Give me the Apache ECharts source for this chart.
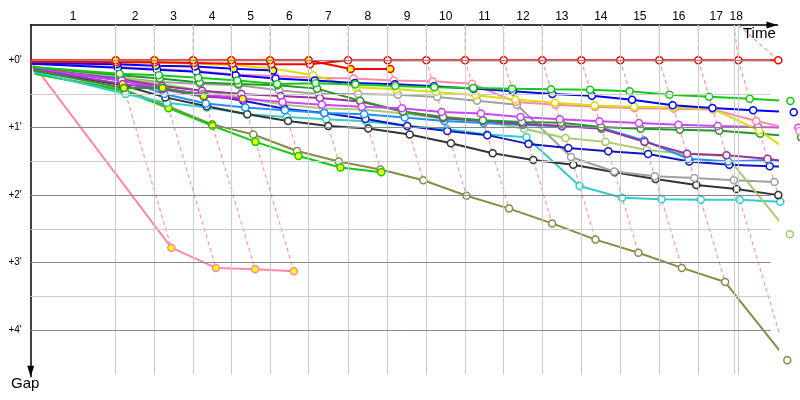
<!DOCTYPE html>
<html>
<head>
<meta charset="utf-8">
<script src="https://cdn.jsdelivr.net/npm/echarts@6/dist/echarts.min.js"></script>
<style>
  html, body { margin: 0; padding: 0; background: #fff; }
  #chart { width: 800px; height: 400px; }
</style>
</head>
<body>
<div id="chart"></div>
<script>
// stage names shown along the time axis
const stageLabels = ["1", "2", "3", "4", "5", "6", "7", "8", "9", "10", "11", "12", "13", "14", "15", "16", "17", "18"];
// time of each stage grid line (index 0 = start)
const stageMarks = [0, 4.25, 6.18, 8.12, 10.03, 11.97, 13.9, 15.87, 17.85, 19.78, 21.72, 23.65, 25.58, 27.53, 29.48, 31.43, 33.38, 35.17, 35.38];
// time of the leader at the end of each stage
const leaderTimes = [0, 4.25, 6.18, 8.12, 10.03, 11.97, 13.9, 15.87, 17.85, 19.78, 21.72, 23.65, 25.58, 27.53, 29.48, 31.43, 33.38, 35.38, 37.38];
const majorGaps = [0, 1, 2, 3, 4];
const minorGaps = [0.5, 1.5, 2.5, 3.5];

// gap (minutes) of each rider after each stage, index 0 = start
const redOut = [0, 0, 0, 0, 0, 0, 0, 0.13, 0.13];
const red = [0.02, 0.03, 0.03, 0.04, 0.05, 0.06, 0.06, 0, 0, 0, 0, 0, 0, 0, 0, 0, 0, 0, 0];
const blueOut = [0.04, 0.06, 0.08, 0.09, 0.125, 0.15];
const blue = [0.05, 0.11, 0.14, 0.17, 0.22, 0.27, 0.3, 0.337, 0.356, 0.386, 0.42, 0.46, 0.5, 0.525, 0.585, 0.668, 0.708, 0.742, 0.772];
const yellow = [0.02, 0.03, 0.04, 0.05, 0.07, 0.12, 0.22, 0.4, 0.43, 0.47, 0.52, 0.58, 0.63, 0.67, 0.69, 0.7, 0.72, 1.04, 1.56];
const pink = [0.05, 0.1, 0.13, 0.16, 0.21, 0.233, 0.26, 0.27, 0.3, 0.31, 0.347, 0.62, 0.66, 0.69, 0.71, 0.72, 0.73, 0.9, 1.05];
const pinkOut = [0.02, 2.78, 3.08, 3.1, 3.13];
const green = [0.1, 0.2, 0.22, 0.26, 0.3, 0.35, 0.34, 0.36, 0.38, 0.4, 0.41, 0.42, 0.43, 0.436, 0.46, 0.51, 0.54, 0.57, 0.605];
const greenOut = [0.2, 0.46, 0.71, 0.97, 1.21, 1.42, 1.59, 1.66];
const olive = [0.2, 0.44, 0.68, 0.95, 1.1, 1.346, 1.5, 1.62, 1.78, 2.01, 2.2, 2.42, 2.66, 2.855, 3.08, 3.29, 4.45];
const black = [0.15, 0.37, 0.55, 0.68, 0.8, 0.9, 0.975, 1.01, 1.1, 1.23, 1.38, 1.48, 1.55, 1.66, 1.76, 1.85, 1.91, 2.0];
const cyan = [0.17, 0.5, 0.63, 0.7, 0.8, 0.84, 0.875, 0.905, 0.975, 1.02, 1.1, 1.14, 1.865, 2.04, 2.06, 2.07, 2.07, 2.1];
const skyBlue = [0.14, 0.27, 0.5, 0.64, 0.7, 0.74, 0.78, 0.8, 0.85, 0.9, 0.93, 0.96, 0.98, 1.0, 1.19, 1.46, 1.5, 1.48, 1.5];
const navy = [0.12, 0.3, 0.42, 0.5, 0.6, 0.72, 0.78, 0.87, 0.975, 1.05, 1.11, 1.24, 1.3, 1.35, 1.39, 1.5, 1.55, 1.57, 1.6];
const forest = [0.1, 0.22, 0.27, 0.33, 0.35, 0.37, 0.42, 0.6, 0.76, 0.84, 0.89, 0.915, 0.926, 0.99, 1.015, 1.03, 1.045, 1.09, 1.14];
const forestOut = [0.15, 0.41, 0.41, 0.53];
const purple = [0.12, 0.28, 0.38, 0.45, 0.5, 0.53, 0.56, 0.61, 0.76, 0.86, 0.9, 0.94, 0.975, 1.015, 1.21, 1.386, 1.41, 1.46, 1.55];
const violet = [0.12, 0.3, 0.42, 0.5, 0.57, 0.62, 0.66, 0.69, 0.71, 0.767, 0.79, 0.84, 0.875, 0.905, 0.93, 0.957, 0.976, 0.99, 1.0];
const violetOut = [0.13, 0.35, 0.43, 0.54, 0.57];
const lime = [0.1, 0.25, 0.35, 0.45, 0.55, 0.66, 0.71, 0.73, 0.79, 0.866, 0.905, 1.015, 1.153, 1.21, 1.33, 1.39, 1.42, 2.58];
const gray = [0.1, 0.26, 0.32, 0.35, 0.37, 0.445, 0.5, 0.5, 0.51, 0.545, 0.6, 0.66, 1.435, 1.65, 1.72, 1.746, 1.78, 1.806, 1.81];

const Y_MIN = -0.524;
const Y_MAX = 4.694;
const X_MAX = 37.34;
const GRID_X_END = 37.0;
const GRID_Y_END = 4.665;
const FONT = '"Liberation Sans", Arial, sans-serif';

// riders, drawn bottom first
const riders = [
  { gaps: olive, color: "#8a8a48" },
  { gaps: pinkOut, color: "#ff88aa", out: true },
  { gaps: greenOut, color: "#11cc11", out: true },
  { gaps: cyan, color: "#33cccc" },
  { gaps: black, color: "#333333" },
  { gaps: gray, color: "#a0a0a0" },
  { gaps: lime, color: "#a6cc6a" },
  { gaps: navy, color: "#1414c8" },
  { gaps: skyBlue, color: "#1e90ff" },
  { gaps: purple, color: "#993399" },
  { gaps: forest, color: "#2a962a" },
  { gaps: violet, color: "#cc44ff" },
  { gaps: violetOut, color: "#aa33cc", out: true },
  { gaps: forestOut, color: "#2a962a", out: true },
  { gaps: pink, color: "#ff88aa" },
  { gaps: yellow, color: "#dddd00" },
  { gaps: blue, color: "#0000ff" },
  { gaps: green, color: "#11cc11" },
  { gaps: blueOut, color: "#0000ff", out: true },
  { gaps: red, color: "#ff0000" },
  { gaps: redOut, color: "#ff0000", out: true },
];

const labelSpots = stageLabels.map((_, i) => (stageMarks[i] + stageMarks[i + 1]) / 2);

const chart = echarts.init(document.getElementById("chart"), null, { renderer: "canvas" });

// grid lines
const gridData = [];
stageMarks.slice(1).forEach((t) => {
  gridData.push([
    { coord: [t, Y_MIN], lineStyle: { color: "#cccccc", width: 1, type: "solid" } },
    { coord: [t, GRID_Y_END] },
  ]);
});
minorGaps.forEach((g) => {
  gridData.push([
    { coord: [0, g], lineStyle: { color: "#cccccc", width: 1, type: "solid" } },
    { coord: [GRID_X_END, g] },
  ]);
});
majorGaps.forEach((g) => {
  gridData.push([
    { coord: [0, g], lineStyle: { color: "#888888", width: 1, type: "solid" } },
    { coord: [GRID_X_END, g] },
  ]);
});

const series = [
  {
    type: "line",
    data: [],
    silent: true,
    markLine: { symbol: "none", silent: true, label: { show: false }, animation: false, data: gridData },
  },
];

// dashed stage lines through every rider's point of that stage
for (let k = 1; k < stageMarks.length; k++) {
  let gmax = 0;
  riders.forEach((r) => {
    if (r.gaps[k] != null && r.gaps[k] > gmax) gmax = r.gaps[k];
  });
  series.push({
    type: "line",
    silent: true,
    clip: false,
    symbol: "none",
    lineStyle: { color: "#ff9a9a", width: 1.2, type: [4, 3] },
    data: [
      [stageMarks[k], Y_MIN],
      [leaderTimes[k], 0],
      [leaderTimes[k] + gmax, gmax],
    ],
  });
}

riders.forEach((r) => {
  series.push({
    type: "line",
    clip: false,
    silent: true,
    symbol: "circle",
    symbolSize: 7,
    lineStyle: { color: r.color, width: 2 },
    itemStyle: { color: r.out ? "#ffff00" : "#ffffff", borderColor: r.color, borderWidth: 1.5 },
    data: r.gaps.map((g, k) => ({
      value: [leaderTimes[k] + g, g],
      symbol: k === 0 ? "none" : "circle",
    })),
  });
});

const option = {
  backgroundColor: "#ffffff",
  animation: false,
  grid: { left: 30.7, top: 25, width: 746.8, height: 351.7 },
  xAxis: {
    type: "value",
    position: "top",
    min: 0,
    max: X_MAX,
    axisLine: {
      show: true,
      onZero: false,
      lineStyle: { color: "#000", width: 1.5 },
      symbol: ["none", "triangle"],
      symbolSize: [7, 11],
      symbolOffset: [0, -5.5],
    },
    axisTick: { show: false },
    splitLine: { show: false },
    axisLabel: {
      customValues: labelSpots,
      formatter: (v) => {
        const i = labelSpots.findIndex((p) => Math.abs(p - v) < 1e-6);
        return i >= 0 ? stageLabels[i] : "";
      },
      color: "#000",
      fontFamily: FONT,
      fontSize: 12,
      margin: 2,
    },
  },
  yAxis: {
    type: "value",
    inverse: true,
    min: Y_MIN,
    max: Y_MAX,
    axisLine: {
      show: true,
      onZero: false,
      lineStyle: { color: "#000", width: 1.5 },
      symbol: ["triangle", "none"],
      symbolSize: [7, 11],
      symbolOffset: [5.5, 0],
    },
    axisTick: { show: false },
    splitLine: { show: false },
    axisLabel: {
      customValues: majorGaps,
      formatter: (v) => "+" + v + "'",
      color: "#000",
      fontFamily: FONT,
      fontSize: 10,
      margin: 9,
    },
  },
  graphic: [
    { type: "text", left: 743, top: 26, style: { text: "Time", font: "15px " + FONT, fill: "#000" } },
    { type: "text", left: 11, top: 376, style: { text: "Gap", font: "15px " + FONT, fill: "#000" } },
  ],
  series: series,
};

chart.setOption(option);
</script>
</body>
</html>
